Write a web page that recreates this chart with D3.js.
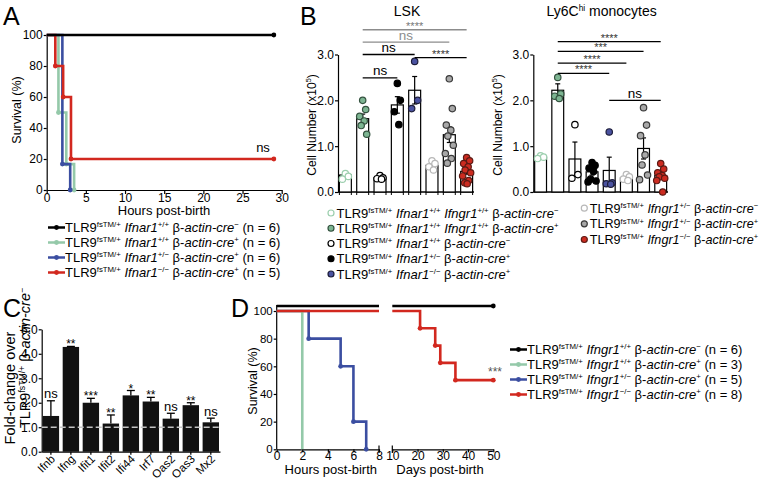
<!DOCTYPE html>
<html><head><meta charset="utf-8">
<script src="https://cdn.jsdelivr.net/npm/d3@7"></script>
<style>body{margin:0;background:#fff}svg{display:block}</style>
</head><body>
<svg id="c" width="762" height="481"></svg>
<script>
// ---------------- DATA ----------------
// Panel A: survival (hours post-birth), [time, % surviving]
const aTicksX = [0, 5, 10, 15, 20, 25, 30];
const aTicksY = [0, 20, 40, 60, 80, 100];
const aBlack = [[0, 100], [29, 100]];
const aGreen = [[0, 100], [1.5, 50], [2.5, 16.7], [3.5, 0]];
const aBlue  = [[0, 100], [2, 16.7], [3, 0]];
const aRed   = [[0, 100], [1.1, 80], [2.1, 60], [3.1, 20], [29, 20]];
const aGenes = ["+/+", "+/+", "+/\u2212", "\u2212/\u2212"];
const aCre   = ["\u2212", "+", "+", "+"];
const aN     = [6, 6, 6, 5];

// Panel B: cell numbers (x10^5)
const bTicksY = [0, 1, 2, 3];
const lskMean = [0.37, 1.60, 0.31, 1.90, 2.22, 0.58, 1.25, 0.45];
const lskSem  = [0.04, 0.10, 0.02, 0.18, 0.30, 0.05, 0.17, 0.06];
const lskPts = [
  [0.40, 0.34, 0.28],
  [2.00, 1.80, 1.65, 1.55, 1.45, 1.26],
  [0.36, 0.31, 0.29, 0.28],
  [2.37, 2.00, 1.75, 1.47],
  [2.85, 2.00, 1.82],
  [0.68, 0.62, 0.55, 0.48],
  [2.47, 1.82, 1.46, 1.35, 1.22, 1.02, 0.84, 0.73, 0.63],
  [0.75, 0.68, 0.62, 0.55, 0.48, 0.42, 0.35, 0.25, 0.20, 0.18]
];
const lyMean = [0.76, 2.22, 0.72, 0.44, 0.47, 0.31, 0.95, 0.36];
const lySem  = [0.03, 0.14, 0.37, 0.07, 0.29, 0.04, 0.23, 0.07];
const lyPts = [
  [0.79, 0.76, 0.73],
  [2.50, 2.14, 2.09, 2.04],
  [1.47, 0.38, 0.30],
  [0.64, 0.58, 0.52, 0.45, 0.28, 0.24, 0.22],
  [1.31, 0.20, 0.18, 0.17],
  [0.38, 0.33, 0.28, 0.25],
  [1.84, 1.46, 1.23, 0.81, 0.59, 0.37, 0.27],
  [0.62, 0.50, 0.42, 0.36, 0.33, 0.30, 0.25, 0.0]
];
// significance brackets: [fromBar, toBar, level (x10^5), label, grey?]
const lskSig = [
  [1, 7, 3.54, "****", true],
  [1, 6, 3.27, "ns", true],
  [1, 4, 3.00, "ns", false],
  [4, 7, 2.93, "****", false],
  [1, 3, 2.49, "ns", false]
];
const lySig = [
  [1, 7, 3.28, "****", false],
  [1, 6, 3.07, "***", false],
  [1, 5, 2.81, "****", false],
  [1, 4, 2.59, "****", false],
  [4, 7, 2.00, "ns", false]
];

// Panel C: fold change
const cGenes = ["Ifnb", "Ifng", "Ifit1", "Ifit2", "Ifi44", "Irf7", "Oas2", "Oas3", "Mx2"];
const cMean  = [1.46, 4.28, 2.00, 1.15, 2.30, 2.05, 1.35, 1.90, 1.20];
const cSem   = [0.62, 0.02, 0.18, 0.35, 0.20, 0.17, 0.22, 0.10, 0.17];
const cSig   = ["ns", "**", "***", "**", "*", "**", "ns", "**", "ns"];
const cTicksY = [0, 1, 2, 3, 4, 5];

// Panel D: survival
const dTicksH = [0, 2, 4, 6, 8];
const dTicksD = [10, 20, 30, 40, 50];
const dTicksY = [0, 20, 40, 60, 80, 100];
const dBlackH = [[0, 100], [8, 100]];
const dGreenH = [[0, 100], [2, 0]];
const dBlueH  = [[0, 100], [2.5, 80], [5, 60], [6, 20], [7, 0]];
const dRedH   = [[0, 100], [8, 100]];
const dBlackD = [[10, 100], [50, 100]];
const dRedD   = [[10, 100], [21, 87.5], [27, 75], [29, 62.5], [35, 50], [50, 50]];
const dGenes = ["+/+", "+/+", "+/\u2212", "\u2212/\u2212"];
const dCre   = ["\u2212", "+", "+", "+"];
const dN     = [6, 3, 5, 8];

// ---------------- STYLE ----------------
const FONT = '"Liberation Sans", Arial, Helvetica, sans-serif';
const COL = { black: "#000", green: "#94c9a9", blue: "#3b4ea1", red: "#d2281f" };
const lineCols = [COL.black, COL.green, COL.blue, COL.red];
const ptStyle = [
  { fill: "#fff", stroke: "#9ccfae" },
  { fill: "#7db592", stroke: "#34523f" },
  { fill: "#fff", stroke: "#000" },
  { fill: "#000", stroke: "#000" },
  { fill: "#4a52a0", stroke: "#1d1d3a" },
  { fill: "#fff", stroke: "#b8b8b8" },
  { fill: "#a8a8a8", stroke: "#3a3a3a" },
  { fill: "#cc2b20", stroke: "#5c1a14" }
];

const svg = d3.select("#c").attr("font-family", FONT);

function rich(textSel, segs, size) {
  let cur = 0;
  segs.forEach(([t, st]) => {
    const sup = st.includes("s");
    const target = sup ? -0.36 * size : 0;
    const ts = textSel.append("tspan").text(t).attr("dy", target - cur);
    cur = target;
    if (st.includes("i")) ts.attr("font-style", "italic");
    if (sup) ts.attr("font-size", size * 0.6);
  });
}
function styleAxis(g, fs) {
  g.attr("font-family", FONT).attr("font-size", fs);
  g.selectAll("path,line").attr("stroke", "#000").attr("stroke-width", 1.2);
  g.selectAll("text").attr("fill", "#000");
}
function label(x, y, txt, size, opts = {}) {
  const t = svg.append("text").attr("x", x).attr("y", y).attr("font-size", size)
    .attr("text-anchor", opts.anchor || "start").attr("fill", opts.fill || "#000").text(txt);
  if (opts.rotate) t.attr("transform", `rotate(-90,${x},${y})`).attr("text-anchor", "middle");
  return t;
}
function survLegend(x0, y0, genes, cres, ns, gene) {
  genes.forEach((g, i) => {
    const y = y0 + i * 15;
    svg.append("line").attr("x1", x0).attr("x2", x0 + 17).attr("y1", y - 4.5).attr("y2", y - 4.5)
      .attr("stroke", lineCols[i]).attr("stroke-width", 2.5);
    svg.append("circle").attr("cx", x0 + 8.5).attr("cy", y - 4.5).attr("r", 2.4).attr("fill", lineCols[i]);
    const t = svg.append("text").attr("x", x0 + 17).attr("y", y).attr("font-size", 13);
    rich(t, [["TLR9", ""], ["fsTM/+", "s"], [" ", ""], [gene, "i"], [g, "s"], [" \u03b2-", ""],
             ["actin-cre", "i"], [cres[i], "s"], [` (n = ${ns[i]})`, ""]], 13);
  });
}

// Panel letters
label(3, 25, "A", 25);
label(300, 25, "B", 25);
label(3, 317, "C", 25);
label(231, 317, "D", 25);

// ---------------- PANEL A ----------------
{
  const x = d3.scaleLinear().domain([0, 30]).range([46.7, 281.7]);
  const y = d3.scaleLinear().domain([0, 100]).range([190, 35]);
  svg.append("g").attr("transform", "translate(0,190)")
    .call(d3.axisBottom(x).tickValues(aTicksX).tickSize(4).tickSizeOuter(0).tickPadding(-1)).call(styleAxis, 12);
  svg.append("g").attr("transform", "translate(46.7,0)")
    .call(d3.axisLeft(y).tickValues(aTicksY).tickSize(3).tickSizeOuter(0).tickPadding(1)).call(styleAxis, 12);
  const line = d3.line().x(d => x(d[0])).y(d => y(d[1])).curve(d3.curveStepAfter);
  [[aGreen, COL.green], [aBlue, COL.blue], [aRed, COL.red], [aBlack, COL.black]].forEach(([data, c]) => {
    svg.append("path").attr("d", line(data)).attr("fill", "none").attr("stroke", c).attr("stroke-width", 2.6);
    svg.selectAll(null).data(data.slice(1)).join("circle")
      .attr("cx", d => x(d[0])).attr("cy", d => y(d[1])).attr("r", 2.4).attr("fill", c);
  });
  label(263, 152, "ns", 13, { anchor: "middle" });
  label(21, 110, "Survival (%)", 12.5, { rotate: true });
  label(164, 214.5, "Hours post-birth", 13, { anchor: "middle" });
  survLegend(48, 232, aGenes, aCre, aN, "Ifnar1");
}

// ---------------- PANEL B ----------------
const by = d3.scaleLinear().domain([0, 3]).range([192, 54.5]);
function barPanel(x0, x1, means, sems, pts, sigs, titleSegs, ylabX, edgeTicks) {
  const x = d3.scaleBand().domain(d3.range(8)).range([x0, x1]).paddingInner(0.31).paddingOuter(0.08);
  svg.append("g").attr("transform", `translate(${x0},0)`)
    .call(d3.axisLeft(by).tickValues(bTicksY).tickFormat(d3.format(".1f")).tickSize(3).tickSizeOuter(0).tickPadding(1))
    .call(styleAxis, 12);
  svg.append("line").attr("x1", x0).attr("x2", x1).attr("y1", by(0)).attr("y2", by(0))
    .attr("stroke", "#000").attr("stroke-width", 1.4);
  if (edgeTicks) {
    d3.range(8).forEach(i => {
      [x(i), x(i) + x.bandwidth()].forEach(xx => svg.append("line").attr("x1", xx).attr("x2", xx)
        .attr("y1", by(0)).attr("y2", by(0) + 3).attr("stroke", "#000").attr("stroke-width", 1));
    });
  }
  const g = svg.append("g");
  g.selectAll("rect").data(means).join("rect")
    .attr("x", (d, i) => x(i)).attr("width", x.bandwidth())
    .attr("y", d => by(d)).attr("height", d => by(0) - by(d))
    .attr("fill", "#fff").attr("stroke", "#000").attr("stroke-width", 1.2);
  means.forEach((m, i) => {
    const cx = x(i) + x.bandwidth() / 2;
    g.append("line").attr("x1", cx).attr("x2", cx).attr("y1", by(m - sems[i])).attr("y2", by(m + sems[i]))
      .attr("stroke", "#000").attr("stroke-width", 1.2);
    [m - sems[i], m + sems[i]].forEach(v => g.append("line").attr("x1", cx - 2.5).attr("x2", cx + 2.5)
      .attr("y1", by(v)).attr("y2", by(v)).attr("stroke", "#000").attr("stroke-width", 1.2));
  });
  const jit = [0, 3, -3, 1.5, -1.5, 4, -4, 2, -2, 0.5, 3.5];
  pts.forEach((arr, i) => {
    const cx = x(i) + x.bandwidth() / 2;
    arr.forEach((v, j) => g.append("circle").attr("cx", cx + jit[j % jit.length]).attr("cy", by(v)).attr("r", 3.2)
      .attr("fill", ptStyle[i].fill).attr("stroke", ptStyle[i].stroke).attr("stroke-width", 1.2));
  });
  sigs.forEach(([a, b, lev, lab, grey]) => {
    const xa = x(a) + x.bandwidth() / 2, xb = x(b) + x.bandwidth() / 2, yy = by(lev);
    const c = grey ? "#8c8c8c" : "#000";
    svg.append("line").attr("x1", xa).attr("x2", xb).attr("y1", yy).attr("y2", yy)
      .attr("stroke", c).attr("stroke-width", 1.3);
    if (lab === "ns") label((xa + xb) / 2, yy - 2.5, lab, 13.5, { anchor: "middle", fill: c });
    else label((xa + xb) / 2, yy, lab, 11, { anchor: "middle", fill: grey ? "#777" : "#333" });
  });
  const tt = svg.append("text").attr("x", (x0 + x1) / 2 + 1).attr("y", 16).attr("font-size", 14).attr("text-anchor", "middle");
  rich(tt, titleSegs, 14);
  const yl = svg.append("text").attr("transform", `translate(${ylabX},125) rotate(-90)`).attr("text-anchor", "middle").attr("font-size", 12);
  rich(yl, [["Cell Number (x10", ""], ["5", "s"], [")", ""]], 12);
}
barPanel(338, 474, lskMean, lskSem, lskPts, lskSig, [["LSK", ""]], 315.5, true);
barPanel(533.3, 668, lyMean, lySem, lyPts, lySig, [["Ly6C", ""], ["hi", "s"], [" monocytes", ""]], 501.5, false);

// B legends
{
  const leftSegs = [
    [["Ifnar1", "i"], ["+/+", "s"], [" ", ""], ["Ifngr1", "i"], ["+/+", "s"], [" \u03b2-", ""], ["actin-cre", "i"], ["\u2212", "s"]],
    [["Ifnar1", "i"], ["+/+", "s"], [" ", ""], ["Ifngr1", "i"], ["+/+", "s"], [" \u03b2-", ""], ["actin-cre", "i"], ["+", "s"]],
    [["Ifnar1", "i"], ["+/+", "s"], [" \u03b2-", ""], ["actin-cre", "i"], ["\u2212", "s"]],
    [["Ifnar1", "i"], ["+/\u2212", "s"], [" \u03b2-", ""], ["actin-cre", "i"], ["+", "s"]],
    [["Ifnar1", "i"], ["\u2212/\u2212", "s"], [" \u03b2-", ""], ["actin-cre", "i"], ["+", "s"]]
  ];
  const rightSegs = [
    [["Ifngr1", "i"], ["+/\u2212", "s"], [" \u03b2-", ""], ["actin-cre", "i"], ["\u2212", "s"]],
    [["Ifngr1", "i"], ["+/\u2212", "s"], [" \u03b2-", ""], ["actin-cre", "i"], ["+", "s"]],
    [["Ifngr1", "i"], ["\u2212/\u2212", "s"], [" \u03b2-", ""], ["actin-cre", "i"], ["+", "s"]]
  ];
  const entry = (cx, y, st, segs, fs) => {
    svg.append("circle").attr("cx", cx).attr("cy", y - 4.5).attr("r", 3).attr("fill", st.fill)
      .attr("stroke", st.stroke).attr("stroke-width", 1.2);
    const t = svg.append("text").attr("x", cx + 5.5).attr("y", y).attr("font-size", fs);
    rich(t, [["TLR9", ""], ["fsTM/+", "s"], [" ", ""]].concat(segs), fs);
  };
  leftSegs.forEach((s, i) => entry(331, 217.5 + i * 15.25, ptStyle[i], s, 13));
  rightSegs.forEach((s, i) => entry(584.3, 212.7 + i * 15.65, ptStyle[5 + i], s, 12.6));
}

// ---------------- PANEL C ----------------
{
  const x = d3.scaleBand().domain(cGenes).range([41.7, 220]).paddingInner(0.18).paddingOuter(0.05);
  const y = d3.scaleLinear().domain([0, 5]).range([451.7, 329.3]);
  svg.append("g").attr("transform", "translate(41.7,0)")
    .call(d3.axisLeft(y).tickValues(cTicksY).tickSize(3).tickSizeOuter(0).tickPadding(1)).call(styleAxis, 12);
  svg.selectAll(null).data(cGenes).join("rect")
    .attr("x", d => x(d)).attr("width", x.bandwidth())
    .attr("y", (d, i) => y(cMean[i])).attr("height", (d, i) => y(0) - y(cMean[i])).attr("fill", "#111");
  cGenes.forEach((gname, i) => {
    const cx = x(gname) + x.bandwidth() / 2, top = y(cMean[i] + cSem[i]);
    svg.append("line").attr("x1", cx).attr("x2", cx).attr("y1", y(cMean[i])).attr("y2", top).attr("stroke", "#000").attr("stroke-width", 1.3);
    svg.append("line").attr("x1", cx - 4).attr("x2", cx + 4).attr("y1", top).attr("y2", top).attr("stroke", "#000").attr("stroke-width", 1.3);
    if (cSig[i] === "ns") label(cx, top - 2.5, "ns", 13, { anchor: "middle" });
    else label(cx, top + 2, cSig[i], 12, { anchor: "middle" });
  });
  svg.append("line").attr("x1", 41.7).attr("x2", 220).attr("y1", y(1)).attr("y2", y(1))
    .attr("stroke", "#c4c4c4").attr("stroke-width", 1.6).attr("stroke-dasharray", "6,3");
  const xa = svg.append("g").attr("transform", "translate(0,451.7)")
    .call(d3.axisBottom(x).tickSize(3).tickSizeOuter(0)).call(styleAxis, 11.5);
  xa.selectAll(".tick text").attr("text-anchor", "end").attr("dy", null).attr("y", 0)
    .attr("transform", "translate(5,8) rotate(-45)");
  label(15, 388, "Fold-change over", 14.5, { rotate: true });
  const l2 = svg.append("text").attr("transform", "translate(30,358) rotate(-90)").attr("text-anchor", "middle").attr("font-size", 14.5);
  rich(l2, [["TLR9", ""], ["fsTM/+", "s"], [" \u03b2-", ""], ["actin-cre", "i"], ["\u2212", "s"]], 14.5);
}

// ---------------- PANEL D ----------------
{
  const y = d3.scaleLinear().domain([0, 100]).range([449.3, 311]);
  const xh = d3.scaleLinear().domain([0, 8]).range([276.7, 379]);
  const xd = d3.scaleLinear().domain([10, 50]).range([392.3, 493.3]);
  const ya = svg.append("g").attr("transform", "translate(276.7,0)")
    .call(d3.axisLeft(y).tickValues(dTicksY).tickSize(3).tickSizeOuter(0).tickPadding(1)).call(styleAxis, 11.5);
  ya.select(".domain").attr("d", "M0,449.3V305");
  svg.append("g").attr("transform", "translate(0,449.3)")
    .call(d3.axisBottom(xh).tickValues(dTicksH).tickSize(3).tickSizeOuter(0).tickPadding(-1)).call(styleAxis, 12);
  svg.append("g").attr("transform", "translate(0,449.3)")
    .call(d3.axisBottom(xd).tickValues(dTicksD).tickSize(3).tickSizeOuter(0).tickPadding(-1)).call(styleAxis, 12);
  [xh.range()[1], xd.range()[0]].forEach(xx => svg.append("line").attr("x1", xx).attr("x2", xx)
    .attr("y1", 445.5).attr("y2", 453).attr("stroke", "#000").attr("stroke-width", 1.2));
  const lh = d3.line().x(d => xh(d[0])).y(d => y(d[1])).curve(d3.curveStepAfter);
  const ld = d3.line().x(d => xd(d[0])).y(d => y(d[1])).curve(d3.curveStepAfter);
  const draw = (gen, sx, data, c, off, dots) => {
    const g = svg.append("g").attr("transform", `translate(0,${off})`);
    g.append("path").attr("d", gen(data)).attr("fill", "none").attr("stroke", c).attr("stroke-width", 2.6);
    if (dots) g.selectAll(null).data(data.slice(1)).join("circle")
      .attr("cx", d => sx(d[0])).attr("cy", d => y(d[1])).attr("r", 2.4).attr("fill", c);
  };
  draw(lh, xh, dBlueH, COL.blue, 0, true);
  draw(lh, xh, dGreenH, COL.green, 0, false);
  draw(lh, xh, dRedH, COL.red, 0, false);
  draw(ld, xd, dRedD, COL.red, 0, true);
  draw(lh, xh, dBlackH, COL.black, -5, false);
  draw(ld, xd, dBlackD, COL.black, -5, true);
  label(495, 376, "***", 12, { anchor: "middle", fill: "#555" });
  label(256.5, 381, "Survival (%)", 12.5, { rotate: true });
  label(330.8, 474, "Hours post-birth", 13, { anchor: "middle" });
  label(440, 474, "Days post-birth", 13, { anchor: "middle" });
  survLegend(510, 354, dGenes, dCre, dN, "Ifngr1");
}
</script>
</body></html>
